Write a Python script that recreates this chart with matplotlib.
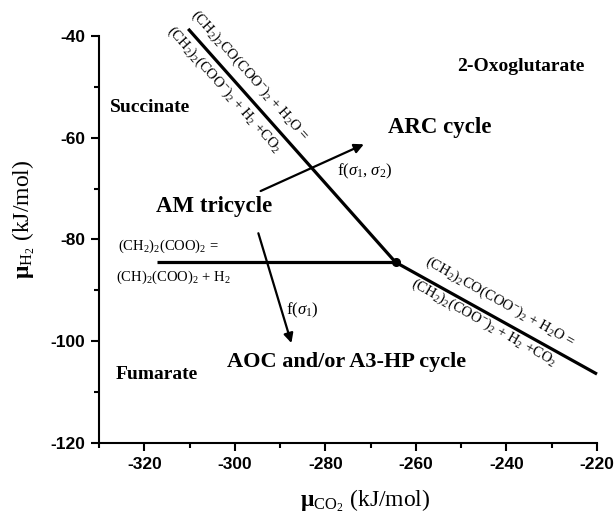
import matplotlib
matplotlib.use("Agg")
import matplotlib.pyplot as plt

plt.rcParams['mathtext.fontset'] = 'custom'
plt.rcParams['mathtext.rm'] = 'Liberation Serif'
plt.rcParams['mathtext.it'] = 'Liberation Serif:italic'
plt.rcParams['mathtext.bf'] = 'Liberation Serif:bold'
plt.rcParams['axes.unicode_minus'] = False

# --- data ---
upper_x = [-310.3, -264.5]
upper_y = [-38.6, -84.5]
lower_x = [-264.5, -220.0]
lower_y = [-84.5, -106.5]
horiz_x = [-317.2, -264.5]
horiz_y = [-84.5, -84.5]
triple_x = [-264.5]
triple_y = [-84.5]
arc_arrow_start = (-294.3, -70.5)
arc_arrow_end = (-271.5, -61.3)
aoc_arrow_start = (-294.8, -78.8)
aoc_arrow_end = (-287.5, -100.4)
x_ticks = [-320, -300, -280, -260, -240, -220]
y_ticks = [-120, -100, -80, -60, -40]

fig = plt.figure(figsize=(6.15, 5.22), dpi=100)
ax = fig.add_axes([99/615, 1-442.7/522, (597-99)/615, (442.7-36)/522])
ax.set_xlim(-330, -220)
ax.set_ylim(-120, -40)

for s in ['top', 'right']:
    ax.spines[s].set_visible(False)
for s in ['left', 'bottom']:
    ax.spines[s].set_linewidth(1.5)

ax.set_xticks(x_ticks)
ax.set_yticks(y_ticks)
ax.set_xticks(range(-330, -219, 10), minor=True)
ax.set_yticks(range(-120, -39, 10), minor=True)
ax.tick_params(which='major', length=6, width=1.5, direction='out', labelsize=12.5, pad=4)
ax.tick_params(which='minor', length=3.5, width=1.5, direction='out')
for lab in ax.get_xticklabels() + ax.get_yticklabels():
    lab.set_fontweight('bold')
    lab.set_family('Liberation Sans')

lw = 2.3
ax.plot(upper_x, upper_y, color='black', lw=lw, clip_on=False, solid_capstyle='butt')
ax.plot(lower_x, lower_y, color='black', lw=lw, clip_on=False, solid_capstyle='butt')
ax.plot(horiz_x, horiz_y, color='black', lw=lw, clip_on=False, solid_capstyle='butt')
ax.plot(triple_x, triple_y, 'o', color='black', ms=5.5, clip_on=False)

ap = dict(arrowstyle='-|>', color='black', lw=1.6, mutation_scale=14, shrinkA=0, shrinkB=0)
ax.annotate('', xy=arc_arrow_end, xytext=arc_arrow_start, arrowprops=ap)
ax.annotate('', xy=aoc_arrow_end, xytext=aoc_arrow_start, arrowprops=ap)

serif = 'Liberation Serif'
ax.text(-318.7, -54.1, 'Succinate', family=serif, weight='bold', fontsize=14, ha='center', va='center')
ax.text(-236.9, -46.0, '2-Oxoglutarate', family=serif, weight='bold', fontsize=14, ha='center', va='center')
ax.text(-317.2, -106.5, 'Fumarate', family=serif, weight='bold', fontsize=14, ha='center', va='center')
ax.text(-254.7, -58.0, 'ARC cycle', family=serif, weight='bold', fontsize=16.5, ha='center', va='center')
ax.text(-304.6, -73.5, 'AM tricycle', family=serif, weight='bold', fontsize=16.5, ha='center', va='center')
ax.text(-275.4, -104.1, 'AOC and/or A3-HP cycle', family=serif, weight='bold', fontsize=16, ha='center', va='center')
ax.text(-277.4, -66.7, r'f($\sigma_1$, $\sigma_2$)', family=serif, fontsize=12, ha='left', va='center')
ax.text(-288.8, -93.9, r'f($\sigma_1$)', family=serif, fontsize=12, ha='left', va='center')

ax.text(-325.7, -81.4, r'(CH$_2$)$_2$(COO)$_2$ =', family=serif, fontsize=10.5, ha='left', va='center')
ax.text(-326.3, -87.4, r'(CH)$_2$(COO)$_2$ + H$_2$', family=serif, fontsize=10.5, ha='left', va='center')

eq_top = r'(CH$_2$)$_2$CO(COO$^{-}$)$_2$ + H$_2$O ='
eq_bot = r'(CH$_2$)$_2$(COO$^{-}$)$_2$ + H$_2$ +CO$_2$'
ax.text(-296.6, -47.8, eq_top, family=serif, fontsize=10.5, rotation=-48.3,
        rotation_mode='anchor', ha='center', va='center', clip_on=False)
ax.text(-302.3, -50.6, eq_bot, family=serif, fontsize=10.5, rotation=-48.3,
        rotation_mode='anchor', ha='center', va='center', clip_on=False)
ax.text(-241.3, -92.3, eq_top, family=serif, fontsize=10.5, rotation=-29.3,
        rotation_mode='anchor', ha='center', va='center')
ax.text(-245.0, -96.4, eq_bot, family=serif, fontsize=10.5, rotation=-29.3,
        rotation_mode='anchor', ha='center', va='center')

ax.set_xlabel(r'$\mathbf{\mu}_{\mathrm{CO_2}}$ (kJ/mol)', family=serif, fontsize=17)
ax.set_ylabel(r'$\mathbf{\mu}_{\mathrm{H_2}}$ (kJ/mol)', family=serif, fontsize=17)
ax.xaxis.set_label_coords(0.535, -0.11)
ax.yaxis.set_label_coords(-0.125, 0.55)

fig.savefig('out.png', dpi=100)
